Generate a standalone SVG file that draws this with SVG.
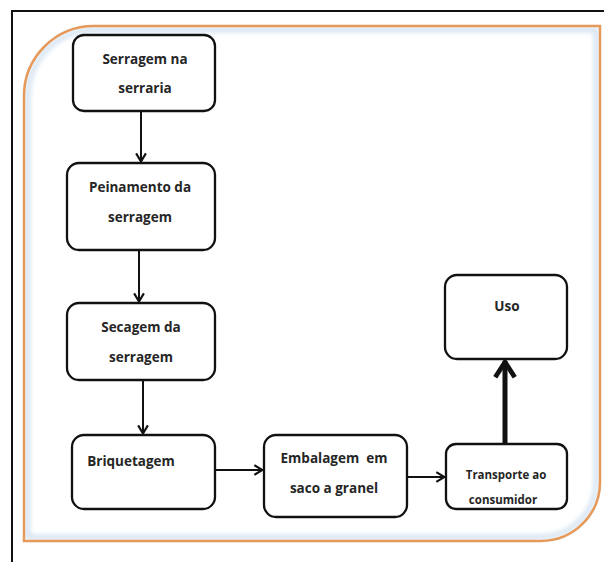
<svg xmlns="http://www.w3.org/2000/svg" width="604" height="562" viewBox="0 0 604 562">
  <style>
    .box { fill: #ffffff; stroke: #111111; stroke-width: 2.3; }
    .lbl { font-family: "Open Sans", "Liberation Sans", sans-serif; font-weight: bold; font-size: 13.5px; fill: #262626; text-anchor: middle; white-space: pre; }
    .sm { font-size: 11.5px; }
    .edge { stroke: #111111; stroke-width: 2; fill: none; }
    .thick { stroke-width: 5; }
  </style>
  <defs>
    <marker id="head" viewBox="0 0 12 12" refX="11" refY="6" markerWidth="13" markerHeight="13" markerUnits="userSpaceOnUse" orient="auto">
      <path d="M3 1.5 L10.5 6 L3 10.5" fill="none" stroke="#111111" stroke-width="2"/>
    </marker>
    <marker id="headBold" viewBox="0 0 12 12" refX="10.5" refY="6" markerWidth="26" markerHeight="26" markerUnits="userSpaceOnUse" orient="auto">
      <path d="M3 1.5 L10 6 L3 10.5" fill="none" stroke="#111111" stroke-width="2.2"/>
    </marker>
    <filter id="soft" x="-5%" y="-5%" width="110%" height="110%">
      <feGaussianBlur stdDeviation="2.5"/>
    </filter>
  </defs>

  <rect width="604" height="562" fill="#ffffff"/>

  <!-- outer frame (left and top edges) -->
  <path d="M12 562 L12 11 L604 11" fill="none" stroke="#111111" stroke-width="2"/>

  <!-- orange panel with soft inner shading -->
  <path d="M28 537 L28 96 A66 66 0 0 1 94 30 L596 30 L596 482 A55 55 0 0 1 541 537 Z" fill="none" stroke="#c9dcee" stroke-width="4" filter="url(#soft)"/>
  <path d="M24 541 L24 96 A70 70 0 0 1 94 26 L600 26 L600 482 A59 59 0 0 1 541 541 Z" fill="none" stroke="#e59a5c" stroke-width="2.5"/>

  <g id="connectors">
    <line class="edge" x1="141" y1="111" x2="141" y2="162" marker-end="url(#head)"/>
    <line class="edge" x1="139" y1="250" x2="139" y2="302" marker-end="url(#head)"/>
    <line class="edge" x1="143" y1="380" x2="143" y2="434" marker-end="url(#head)"/>
    <line class="edge" x1="215" y1="470" x2="263" y2="470" marker-end="url(#head)"/>
    <line class="edge" x1="407" y1="477" x2="445" y2="477" marker-end="url(#head)"/>
    <line class="edge thick" x1="505" y1="444" x2="505" y2="361" marker-end="url(#headBold)"/>
  </g>

  <g id="serragem-serraria">
    <rect class="box" x="73" y="35" width="142" height="76" rx="11"/>
    <text class="lbl" x="145" y="64">Serragem na</text>
    <text class="lbl" x="145" y="93">serraria</text>
  </g>

  <g id="peinamento">
    <rect class="box" x="67" y="163" width="148" height="87" rx="12"/>
    <text class="lbl" x="140" y="192">Peinamento da</text>
    <text class="lbl" x="140" y="222">serragem</text>
  </g>

  <g id="secagem">
    <rect class="box" x="67" y="303" width="148" height="77" rx="12"/>
    <text class="lbl" x="141" y="332">Secagem da</text>
    <text class="lbl" x="141" y="362">serragem</text>
  </g>

  <g id="briquetagem">
    <rect class="box" x="72" y="435" width="143" height="74" rx="12"/>
    <text class="lbl" x="131" y="466">Briquetagem</text>
  </g>

  <g id="embalagem">
    <rect class="box" x="264" y="435" width="143" height="82" rx="12"/>
    <text class="lbl" x="334" y="463" xml:space="preserve">Embalagem  em</text>
    <text class="lbl" x="334" y="493">saco a granel</text>
  </g>

  <g id="transporte">
    <rect class="box" x="446" y="444" width="121" height="65" rx="10"/>
    <text class="lbl sm" x="506" y="479">Transporte ao</text>
    <text class="lbl sm" x="503" y="504">consumidor</text>
  </g>

  <g id="uso">
    <rect class="box" x="445" y="275" width="122" height="84" rx="12"/>
    <text class="lbl" x="507" y="311">Uso</text>
  </g>
</svg>
